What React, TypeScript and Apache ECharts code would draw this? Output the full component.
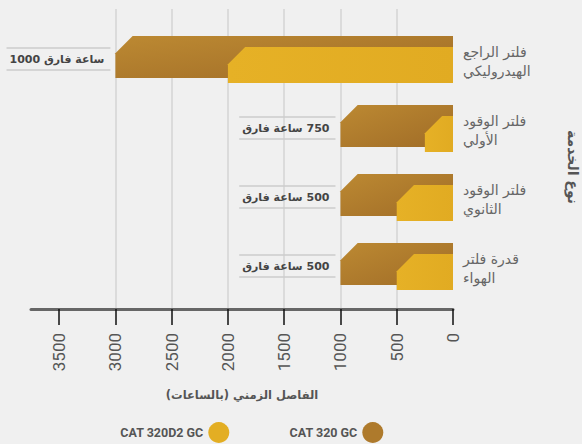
import React, { useEffect, useRef } from "react";
import * as echarts from "echarts";

const categories = [
  "فلتر الراجع\nالهيدروليكي",
  "فلتر الوقود\nالأولي",
  "فلتر الوقود\nالثانوي",
  "قدرة فلتر\nالهواء",
];
const cat320 = [3000, 1000, 1000, 1000];
const cat320D2 = [2000, 250, 500, 500];
const gapLabels = [
  "ساعة فارق 1000",
  "\u200F750 ساعة فارق",
  "\u200F500 ساعة فارق",
  "\u200F500 ساعة فارق",
];
const xTicks = [0, 500, 1000, 1500, 2000, 2500, 3000, 3500];
const seriesNames = ["CAT 320 GC", "CAT 320D2 GC"];
const xAxisTitle = "\u200Fالفاصل الزمني (بالساعات)\u200F";
const yAxisTitle = "نوع الخدمة";

const ARABIC = '"DejaVu Sans", sans-serif';
const LABEL_FONT = 'bold 11px "DejaVu Sans", sans-serif';

let measureCtx: CanvasRenderingContext2D | null = null;
function textWidth(t: string, font: string) {
  if (!measureCtx) measureCtx = document.createElement("canvas").getContext("2d");
  if (!measureCtx) return t.length * 7;
  measureCtx.font = font;
  return measureCtx.measureText(t).width;
}

function barShape(xl: number, xr: number, top: number, bot: number, ch: number) {
  return [
    [xl, top + ch],
    [xl + ch, top],
    [xr, top],
    [xr, bot],
    [xl, bot],
  ];
}

export default function App() {
  const ref = useRef<HTMLDivElement>(null);
  useEffect(() => {
    document.body.style.margin = "0";
    document.body.style.background = "#f0f0f0";
    const chart = echarts.init(ref.current!, null, { renderer: "svg" });
    const darkFill = new echarts.graphic.LinearGradient(0, 0, 1, 1, [
      { offset: 0, color: "#BC8932" },
      { offset: 1, color: "#A06C27" },
    ]);
    const yellowFill = new echarts.graphic.LinearGradient(0, 0, 1, 0, [
      { offset: 0, color: "#E6B126" },
      { offset: 1, color: "#E1AB22" },
    ]);
    const option: any = {
      animation: false,
      backgroundColor: "#f0f0f0",
      textStyle: { fontFamily: "Roboto" },
      legend: {
        data: [seriesNames[1], seriesNames[0]],
        left: 115,
        top: 417,
        align: "right",
        icon: "circle",
        itemWidth: 21,
        itemHeight: 21,
        itemGap: 60,
        textStyle: { color: "#555", fontWeight: "bold", fontSize: 12.5, fontFamily: "Roboto" },
      },
      grid: [
        { left: 31, right: 129, top: 9, height: 300, outerBoundsMode: "none" },
        { left: 31, right: 129, top: 27, height: 276, outerBoundsMode: "none" },
      ],
      xAxis: [
        {
          type: "value",
          gridIndex: 0,
          min: 0,
          max: 3750,
          interval: 500,
          inverse: true,
          position: "bottom",
          axisLine: { show: true, onZero: false, lineStyle: { color: "#666", width: 3 } },
          axisTick: { show: true, length: 16, customValues: xTicks, lineStyle: { color: "#111", width: 1.5 } },
          axisLabel: {
            customValues: xTicks,
            formatter: (v: number) => String(v),
            rotate: 90,
            margin: 24,
            color: "#555",
            fontSize: 17,
            fontFamily: "Roboto",
          },
          splitLine: { show: true, showMinLine: false, showMaxLine: false, lineStyle: { color: "#d4d4d4", width: 1.5 } },
          name: xAxisTitle,
          nameLocation: "middle",
          nameGap: 80,
          nameTextStyle: { color: "#555", fontWeight: "bold", fontSize: 11.5, fontFamily: ARABIC },
        },
        {
          type: "value",
          gridIndex: 1,
          min: 0,
          max: 3750,
          interval: 500,
          inverse: true,
          show: false,
        },
      ],
      yAxis: [
        {
          type: "category",
          gridIndex: 0,
          data: categories,
          inverse: true,
          position: "right",
          axisLine: {
            show: true,
            onZero: false,
            lineStyle: { color: "#666", width: 3, shadowColor: "rgba(0,0,0,0.18)", shadowBlur: 8, shadowOffsetX: 3 },
          },
          axisTick: { show: false },
          axisLabel: { show: false },
          splitLine: { show: false },
        },
        {
          type: "category",
          gridIndex: 1,
          data: categories,
          inverse: true,
          position: "right",
          axisLine: { show: false },
          axisTick: { show: false },
          axisLabel: {
            color: "#666",
            fontSize: 14,
            lineHeight: 19,
            margin: 10,
            align: "left",
            fontFamily: ARABIC,
          },
          splitLine: { show: false },
        },
      ],
      series: [
        {
          type: "custom",
          name: seriesNames[0],
          xAxisIndex: 1,
          yAxisIndex: 1,
          z: 2,
          itemStyle: { color: "#AE7A2C" },
          encode: { x: 0, y: 1 },
          data: cat320.map((v, i) => [v, i]),
          renderItem: (params: any, api: any) => {
            const v = api.value(0);
            const ci = api.value(1);
            const a = api.coord([0, ci]);
            const b = api.coord([v, ci]);
            const band = api.size([0, 1])[1];
            const cy = a[1];
            const xl = Math.min(a[0], b[0]);
            const xr = Math.max(a[0], b[0]);
            const top = cy - band * 0.37;
            const bot = cy + band * 0.24;
            const ch = band * 0.25;
            const label = gapLabels[params.dataIndex];
            const tw = textWidth(label, LABEL_FONT);
            const tx = xl - 11;
            const lx0 = tx - tw - 3;
            const lx1 = xl - 5;
            return {
              type: "group",
              children: [
                {
                  type: "polygon",
                  shape: { points: barShape(xl, xr, top, bot, ch) },
                  style: { fill: darkFill },
                },
                {
                  type: "line",
                  shape: { x1: lx0, y1: cy - 13.5, x2: lx1, y2: cy - 13.5 },
                  style: { stroke: "#cccccc", lineWidth: 1.5 },
                },
                {
                  type: "line",
                  shape: { x1: lx0, y1: cy + 8.5, x2: lx1, y2: cy + 8.5 },
                  style: { stroke: "#cccccc", lineWidth: 1.5 },
                },
                {
                  type: "text",
                  x: tx,
                  y: cy - 2.5,
                  style: {
                    text: label,
                    align: "right",
                    verticalAlign: "middle",
                    fill: "#444",
                    font: LABEL_FONT,
                  },
                },
              ],
            };
          },
        },
        {
          type: "custom",
          name: seriesNames[1],
          xAxisIndex: 1,
          yAxisIndex: 1,
          z: 3,
          itemStyle: { color: "#E3AE23" },
          encode: { x: 0, y: 1 },
          data: cat320D2.map((v, i) => [v, i]),
          renderItem: (params: any, api: any) => {
            const v = api.value(0);
            const ci = api.value(1);
            const a = api.coord([0, ci]);
            const b = api.coord([v, ci]);
            const band = api.size([0, 1])[1];
            const cy = a[1];
            const xl = Math.min(a[0], b[0]);
            const xr = Math.max(a[0], b[0]);
            const top = cy - band * 0.21;
            const bot = cy + band * 0.312;
            const ch = Math.min(band * 0.25, xr - xl);
            return {
              type: "polygon",
              shape: { points: barShape(xl, xr, top, bot, ch) },
              style: { fill: yellowFill },
            };
          },
        },
      ],
      graphic: [
        {
          type: "text",
          x: 573,
          y: 167,
          rotation: -Math.PI / 2,
          style: {
            text: yAxisTitle,
            align: "center",
            verticalAlign: "middle",
            fill: "#555",
            font: 'bold 14px "DejaVu Sans", sans-serif',
          },
        },
      ],
    };
    chart.setOption(option);
    return () => chart.dispose();
  }, []);
  return <div ref={ref} style={{ width: 582, height: 444, background: "#f0f0f0" }} />;
}
